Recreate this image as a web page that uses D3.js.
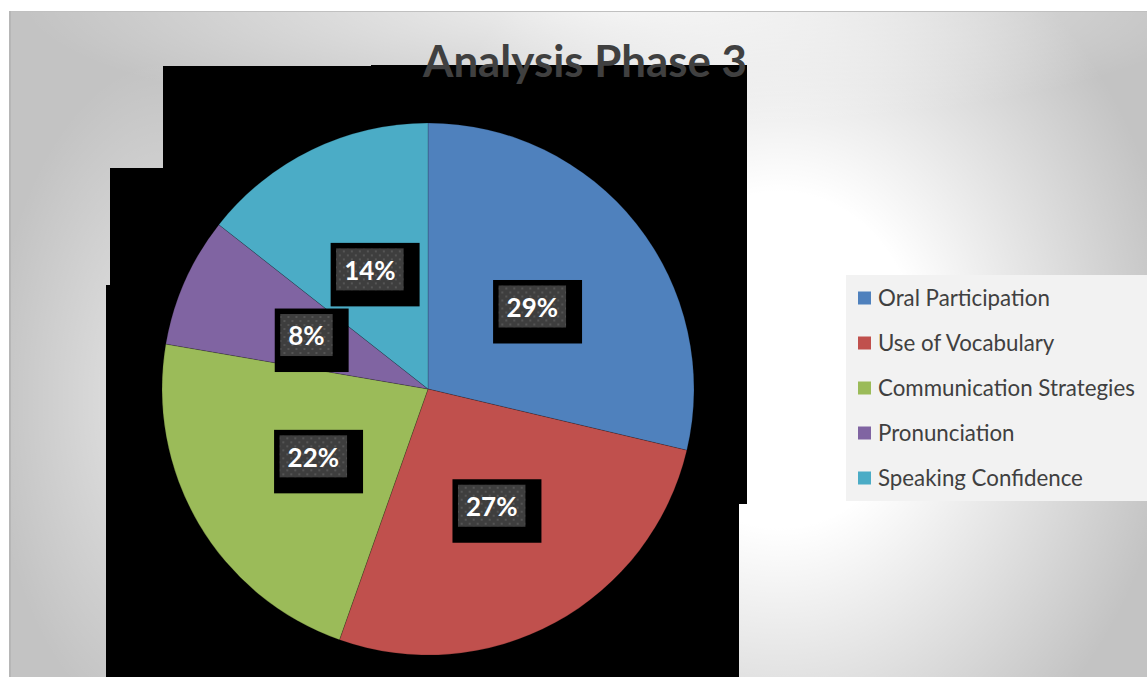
<!DOCTYPE html>
<html>
<head>
<meta charset="utf-8">
<script src="https://cdn.jsdelivr.net/npm/d3@7"></script>
<style>
  html, body { margin: 0; padding: 0; background: #ffffff; }
  svg { display: block; }
</style>
</head>
<body>
<svg id="chart" width="1147" height="677"></svg>
<script>
// ---- data ----
const title = "Analysis Phase 3";
const categories = ["Oral Participation", "Use of Vocabulary", "Communication Strategies", "Pronunciation", "Speaking Confidence"];
const values = [28.7, 26.7, 22.3, 7.9, 14.4];
const colors = ["#4F81BD", "#C0504D", "#9BBB59", "#8064A2", "#4BACC6"];

const W = 1147, H = 677;
const svg = d3.select("#chart");
const defs = svg.append("defs");

// ---- background gradients ----
function radial(id, stops) {
  const g = defs.append("radialGradient").attr("id", id);
  stops.forEach(s => g.append("stop").attr("offset", s[0]).attr("stop-color", "#ffffff").attr("stop-opacity", s[1]));
}
radial("gA", [[0, 1], [0.35, 1], [1, 0]]);
radial("gB", [[0, 0.8], [1, 0]]);
radial("gC", [[0, 0.6], [1, 0]]);

const bg = svg.append("g");
bg.append("rect").attr("x", 9).attr("y", 11).attr("width", W - 9).attr("height", H - 11).attr("fill", "#c3c3c3");
bg.append("ellipse").attr("cx", 780).attr("cy", 360).attr("rx", 400).attr("ry", 480).attr("fill", "url(#gA)");
bg.append("ellipse").attr("cx", 620).attr("cy", 0).attr("rx", 600).attr("ry", 130).attr("fill", "url(#gB)");
bg.append("ellipse").attr("cx", 170).attr("cy", 400).attr("rx", 180).attr("ry", 340).attr("fill", "url(#gC)");
bg.append("line").attr("x1", 9).attr("x2", W).attr("y1", 11.5).attr("y2", 11.5).attr("stroke", "#c0c0c0").attr("stroke-width", 1);
bg.append("line").attr("x1", 10).attr("x2", 10).attr("y1", 11).attr("y2", H).attr("stroke", "#b6b6b6").attr("stroke-width", 2);

// ---- black plot-area artifact ----
svg.append("path")
  .attr("d", "M163,66 L371,66 L371,65 L747,65 L747,504 L739,504 L739,677 L106,677 L106,285 L110,285 L110,168 L163,168 Z")
  .attr("fill", "#000000");

// ---- pie ----
const cx = 428, cy = 389, R = 266;
const pie = d3.pie().sort(null).value(d => d);
const arcs = pie(values);
const arc = d3.arc().innerRadius(0).outerRadius(R);
const total = d3.sum(values);

const gPie = svg.append("g").attr("transform", `translate(${cx},${cy})`);
gPie.selectAll("path.slice")
  .data(arcs)
  .join("path")
  .attr("class", "slice")
  .attr("d", arc)
  .attr("fill", (d, i) => colors[i])
  .attr("stroke", "rgba(0,0,0,0.22)")
  .attr("stroke-width", 0.8);

// texture pattern for label boxes
const pat = defs.append("pattern").attr("id", "tex").attr("patternUnits", "userSpaceOnUse")
  .attr("width", 8).attr("height", 8);
pat.append("rect").attr("width", 8).attr("height", 8).attr("fill", "#3e3e3e");
pat.append("rect").attr("x", 1).attr("y", 1).attr("width", 2).attr("height", 2).attr("fill", "#555555");
pat.append("rect").attr("x", 5).attr("y", 5).attr("width", 2).attr("height", 2).attr("fill", "#555555");

const labels = gPie.selectAll("g.lab")
  .data(arcs)
  .join("g")
  .attr("class", "lab")
  .attr("transform", d => { const c = arc.centroid(d); return `translate(${c[0]},${c[1]})`; });

labels.each(function(d) {
  const g = d3.select(this);
  const txt = Math.round(d.value / total * 100) + "%";
  const outer = g.append("rect").attr("fill", "#000000");
  const inner = g.append("rect").attr("fill", "url(#tex)");
  const t = g.append("text")
    .attr("text-anchor", "middle")
    .attr("dy", "0.36em")
    .attr("y", 1)
    .attr("font-family", "Lato, 'Open Sans', sans-serif")
    .attr("font-weight", "bold")
    .attr("font-size", 26)
    .attr("fill", "#ffffff")
    .text(txt);
  const w = t.node().getComputedTextLength();
  const iw = w + 16, ih = 42;
  inner.attr("x", -iw / 2).attr("y", -ih / 2).attr("width", iw).attr("height", ih);
  outer.attr("x", -iw / 2 - 5.5).attr("y", -ih / 2 - 5.5).attr("width", iw + 21.5).attr("height", ih + 21.5);
});

// ---- title ----
svg.append("text")
  .attr("x", 585)
  .attr("y", 77)
  .attr("text-anchor", "middle")
  .attr("font-family", "Lato, 'Open Sans', sans-serif")
  .attr("font-weight", "bold")
  .attr("font-size", 44)
  .attr("fill", "#404040")
  .attr("textLength", 324)
  .attr("lengthAdjust", "spacingAndGlyphs")
  .text(title);

// ---- legend ----
const legend = svg.append("g");
legend.append("rect").attr("x", 846).attr("y", 275).attr("width", W - 846).attr("height", 226).attr("fill", "#f2f2f2");

const rowY = d3.scalePoint().domain(categories).range([298, 478]);
const items = legend.selectAll("g.item")
  .data(categories)
  .join("g")
  .attr("class", "item")
  .attr("transform", d => `translate(0,${rowY(d)})`);
items.append("rect")
  .attr("x", 858).attr("y", -6.5).attr("width", 13).attr("height", 13)
  .attr("fill", (d, i) => colors[i]);
const lt = items.append("text")
  .attr("x", 878)
  .attr("dy", "0.36em")
  .attr("font-family", "Lato, 'Open Sans', sans-serif")
  .attr("font-size", 20)
  .attr("fill", "#404040")
  .text(d => d);
// fit the longest label to its width in the reference
let maxW = 0;
lt.each(function() { maxW = Math.max(maxW, this.getComputedTextLength()); });
lt.attr("font-size", 20 * 257 / maxW);
</script>
</body>
</html>
